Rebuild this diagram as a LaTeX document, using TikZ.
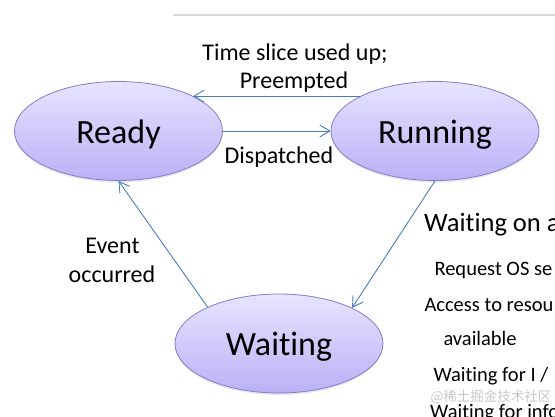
\documentclass[tikz,border=0pt]{standalone}
\usepackage{fontspec}
\setmainfont{Carlito}[Ligatures={NoCommon}]
\newfontfamily\cjk{Noto Sans CJK SC}
\usetikzlibrary{shapes.geometric,arrows.meta,shadows}
\definecolor{arrowblue}{RGB}{74,126,187}
\definecolor{elltop}{RGB}{230,228,255}
\definecolor{ellbot}{RGB}{186,177,246}
\definecolor{elledge}{RGB}{132,122,206}
\definecolor{rulegray}{RGB}{218,218,218}
\definecolor{wmgray}{RGB}{200,200,200}
\tikzset{
  statebox/.style={ellipse, draw=elledge, line width=0.8pt,
    top color=elltop, bottom color=ellbot,
    minimum width=208pt, minimum height=99pt, inner sep=0pt,
    text height=24pt, text depth=0pt,
    font=\fontsize{34}{40}\selectfont,
    drop shadow={opacity=0.18, shadow xshift=0pt, shadow yshift=-2pt}},
  trans/.style={draw=arrowblue, line width=0.9pt,
    -{Straight Barb[length=10pt,width=12pt,line width=0.9pt]}},
  edgelabel/.style={anchor=base, inner sep=0pt, font=\fontsize{24}{28}\selectfont},
  headtext/.style={anchor=base west, inner sep=0pt, font=\fontsize{26.5}{30}\selectfont},
  itemtext/.style={anchor=base west, inner sep=0pt, font=\fontsize{20.5}{24}\selectfont}
}
\begin{document}
\begin{tikzpicture}[x=1pt,y=-1pt]
\useasboundingbox (0,0) rectangle (555,416);
\clip (0,0) rectangle (555,416);
\fill[white] (0,0) rectangle (555,416);
\draw[rulegray, line width=1.2pt] (173,15) -- (555,15);

\node[statebox] (ready) at (118.5,131) {Ready};
\node[statebox] (running) at (435,131) {Running};
\node[statebox] (waiting) at (279,343.5) {Waiting};

\draw[trans] (running.155) -- (ready.25);
\draw[trans] (ready.east) -- (running.west);
\draw[trans] (running.south) -- (waiting.26.3);
\draw[trans] (waiting.153.7) -- (ready.south);

\node[edgelabel] (tslice) at (295,60) {Time slice used up;};
\node[edgelabel] (preempt) at (294,88.3) {Preempted};
\node[edgelabel] (dispatch) at (279,163.3) {Dispatched};
\node[edgelabel] (event) at (112.5,253.3) {Event};
\node[edgelabel] (occurred) at (112,282.7) {occurred};

\node[headtext] (waithead) at (424,231.7) {Waiting on a};
\node[itemtext] (item1) at (434.3,275.7) {Request OS se};
\node[itemtext] (item2) at (424.3,311) {Access to resou};
\node[itemtext] (item3) at (443.3,345.7) {available};
\node[itemtext] (item4) at (433.3,381.7) {Waiting for I /};
\node[itemtext] (item5) at (430,418) {Waiting for info};

\node[anchor=center, inner sep=0pt, text=wmgray, font=\cjk\fontsize{13.5}{15}\selectfont] (wm) at (491,397) {@稀土掘金技术社区};
\end{tikzpicture}
\end{document}
